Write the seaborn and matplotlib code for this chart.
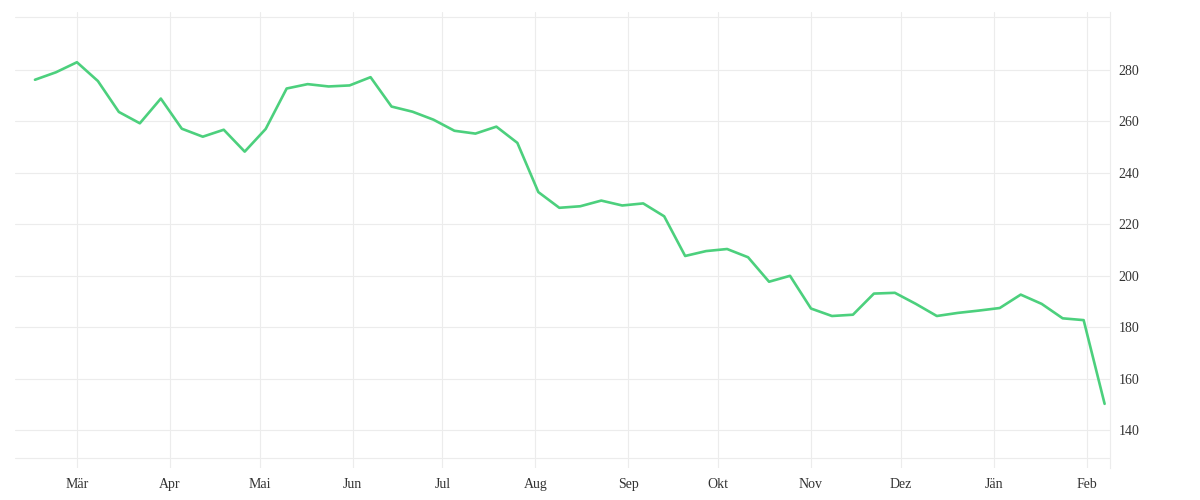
import pandas as pd
import matplotlib.pyplot as plt
import matplotlib.dates as mdates
import seaborn as sns

# weekly values
values = [276.1, 279.0, 282.9, 275.6, 263.6, 259.2, 268.8, 257.1, 254.0, 256.7,
          248.2, 257.0, 272.7, 274.4, 273.5, 273.9, 277.1, 265.7, 263.7, 260.6,
          256.3, 255.2, 257.9, 251.6, 232.5, 226.4, 227.0, 229.2, 227.3, 228.1,
          223.1, 207.7, 209.6, 210.4, 207.2, 197.7, 200.0, 187.3, 184.4, 184.9,
          193.1, 193.4, 189.1, 184.4, 185.6, 186.5, 187.5, 192.7, 189.1, 183.5,
          182.8, 150.3]
dates = pd.date_range("2023-02-15", periods=len(values), freq="7D")

month_labels = ["Mär", "Apr", "Mai", "Jun", "Jul", "Aug", "Sep", "Okt", "Nov", "Dez", "Jän", "Feb"]
month_ticks = pd.date_range("2023-03-01", periods=len(month_labels), freq="MS")
y_ticks = [140, 160, 180, 200, 220, 240, 260, 280]
y_range = (129.2, 300.5)

df = pd.DataFrame({"Datum": dates, "Wert": values})

sns.set_style("white")
plt.rcParams["font.family"] = ["Liberation Serif", "DejaVu Serif"]

grid_col = "#ececec"
fig = plt.figure(figsize=(12, 5), dpi=100)
ax = fig.add_axes([0.0125, 0.064, 0.9128, 0.912])

sns.lineplot(data=df, x="Datum", y="Wert", color="#4cd07d", linewidth=1.9, ax=ax)

ax.set_xlim(pd.Timestamp("2023-02-08 08:00"), pd.Timestamp("2024-02-08 22:00"))
ax.set_ylim(125.4, 302.4)

ax.set_xticks(month_ticks)
ax.set_xticklabels(month_labels)
ax.set_yticks(y_ticks)
ax.yaxis.tick_right()

ax.grid(True, color=grid_col, linewidth=0.8)
for v in y_range:
    ax.axhline(v, color=grid_col, linewidth=0.8, zorder=0)
ax.set_axisbelow(True)

for side in ["left", "top", "bottom"]:
    ax.spines[side].set_visible(False)
ax.spines["right"].set_color(grid_col)
ax.spines["right"].set_linewidth(0.8)

ax.tick_params(axis="x", length=0, pad=7, labelsize=10, labelcolor="#333333")
ax.tick_params(axis="y", length=0, pad=6, labelsize=10, labelcolor="#333333")
ax.set_xlabel("")
ax.set_ylabel("")

fig.savefig("out.png", dpi=100)
